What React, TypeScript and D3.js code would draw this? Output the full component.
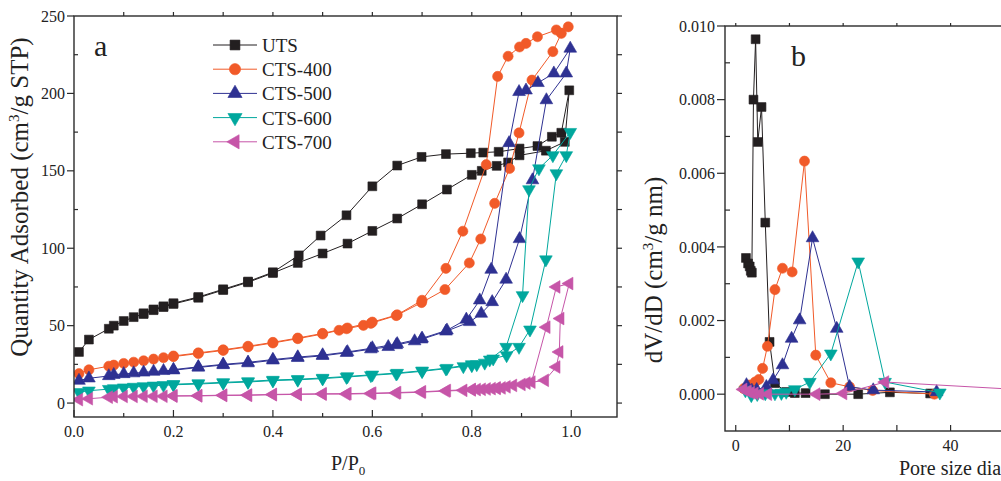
import * as d3 from "d3";

// ---------- panel a: N2 isotherms (P/P0, cm3/g STP) ----------
const utsAds: [number, number][] = [
  [0.01, 33], [0.03, 41], [0.07, 48], [0.08, 50], [0.1, 53], [0.12, 55.5], [0.14, 57.5], [0.16, 60], [0.18, 62], [0.2, 64],
  [0.25, 68], [0.3, 73], [0.35, 78], [0.4, 84], [0.45, 90.5], [0.5, 96.6], [0.55, 103], [0.6, 111.2], [0.65, 119.2],
  [0.7, 128.4], [0.75, 137.9], [0.8, 147.4], [0.82, 150], [0.85, 153.2], [0.873, 155.4], [0.896, 160], [0.949, 163],
  [0.987, 168.7], [0.996, 202],
];
const utsDes: [number, number][] = [
  [0.98, 174.6], [0.961, 172], [0.932, 166], [0.896, 164.4], [0.854, 162.3], [0.823, 161.8], [0.798, 161.4], [0.748, 160.8],
  [0.699, 159], [0.65, 153.4], [0.6, 140], [0.548, 121.3], [0.496, 108.2], [0.452, 95.4], [0.4, 84.5], [0.35, 78.5],
  [0.3, 73.5], [0.25, 68.5], [0.2, 64.5], [0.18, 62.5], [0.16, 60.5], [0.14, 58],
];

const c400Ads: [number, number][] = [
  [0.01, 19], [0.03, 21.5], [0.07, 23.8], [0.08, 24.5], [0.1, 25.6], [0.12, 26.4], [0.14, 27.3], [0.16, 28.4], [0.18, 29.3],
  [0.2, 30], [0.25, 32], [0.3, 34], [0.35, 36.3], [0.4, 38.8], [0.45, 41.6], [0.5, 44.6], [0.533, 47], [0.548, 48],
  [0.582, 50.2], [0.597, 51.5], [0.648, 56.5], [0.699, 64.9], [0.746, 73.3], [0.795, 90.5], [0.818, 106], [0.846, 129],
  [0.876, 151.5], [0.895, 174.5], [0.921, 208.6], [0.963, 227], [0.98, 238.8], [0.994, 243],
];
const c400Des: [number, number][] = [
  [0.97, 241], [0.932, 236.6], [0.909, 232.3], [0.896, 230], [0.873, 224], [0.852, 211], [0.829, 154], [0.782, 111],
  [0.748, 87], [0.7, 66.4], [0.65, 57], [0.6, 52.3], [0.55, 48.5], [0.5, 45], [0.45, 42], [0.4, 39.2], [0.35, 36.7],
  [0.3, 34.4], [0.25, 32.4], [0.2, 30.4],
];

const c500Ads: [number, number][] = [
  [0.01, 14.5], [0.03, 16], [0.07, 17.5], [0.08, 18.3], [0.1, 18.8], [0.12, 19.3], [0.14, 19.8], [0.16, 20.3], [0.18, 20.8],
  [0.2, 21.2], [0.25, 23], [0.3, 24.6], [0.35, 25.8], [0.4, 27.6], [0.45, 29.2], [0.5, 30.5], [0.548, 32.5], [0.597, 34.8],
  [0.632, 36.3], [0.648, 37.5], [0.685, 40], [0.699, 41.2], [0.748, 46.3], [0.796, 52.4], [0.819, 57.8], [0.841, 65.3],
  [0.869, 79.8], [0.896, 106], [0.922, 144], [0.95, 195.7], [0.99, 213], [0.998, 229],
];
const c500Des: [number, number][] = [
  [0.965, 213], [0.933, 206.8], [0.909, 202], [0.895, 201], [0.875, 168], [0.839, 86.2], [0.816, 66.4], [0.789, 54],
  [0.75, 47], [0.7, 41.8], [0.65, 38.2], [0.6, 35.5], [0.55, 33], [0.5, 31], [0.45, 29.7], [0.4, 28.1], [0.35, 26.3],
  [0.3, 25], [0.25, 23.4], [0.2, 21.6],
];

const c600Ads: [number, number][] = [
  [0.01, 7], [0.03, 8], [0.07, 9], [0.08, 9.5], [0.1, 10], [0.12, 10.4], [0.14, 10.8], [0.16, 11.2], [0.18, 11.5], [0.2, 11.8],
  [0.25, 12.3], [0.3, 13], [0.35, 13.6], [0.4, 14.5], [0.45, 15], [0.5, 15.8], [0.548, 16.8], [0.597, 17.9], [0.648, 19],
  [0.7, 20.5], [0.748, 22.2], [0.783, 23.7], [0.8, 24.3], [0.81, 25], [0.826, 26], [0.843, 28.7], [0.87, 30.8],
  [0.895, 36.2], [0.917, 47.4], [0.949, 92.7], [0.97, 148.3], [0.99, 160], [0.998, 175],
];
const c600Des: [number, number][] = [
  [0.963, 160], [0.935, 151.5], [0.915, 138], [0.902, 69.6], [0.869, 36.2], [0.836, 28], [0.8, 25], [0.75, 22.6],
  [0.7, 20.9], [0.65, 19.4], [0.6, 18.3], [0.55, 17.2], [0.5, 16.2], [0.45, 15.4], [0.4, 14.9], [0.35, 14], [0.3, 13.4],
  [0.25, 12.7], [0.2, 12.2],
];

const c700Ads: [number, number][] = [
  [0.01, 2.2], [0.03, 2.8], [0.07, 3.8], [0.08, 4.1], [0.1, 4.3], [0.12, 4.3], [0.14, 4.4], [0.16, 4.4], [0.18, 4.4],
  [0.2, 4.5], [0.25, 4.6], [0.3, 4.9], [0.35, 5], [0.4, 5.4], [0.45, 5.6], [0.5, 5.8], [0.548, 5.8], [0.597, 6.1],
  [0.648, 6.5], [0.699, 7], [0.748, 7.8], [0.783, 8.2], [0.8, 8.5], [0.81, 8.7], [0.82, 8.9], [0.83, 9.1], [0.84, 9.3],
  [0.85, 9.5], [0.86, 9.8], [0.883, 11.4], [0.91, 12.9], [0.947, 14.7], [0.97, 23.3], [0.976, 33], [0.978, 54.6], [0.996, 77.2],
];
const c700Des: [number, number][] = [
  [0.97, 75], [0.95, 49], [0.92, 13.5], [0.9, 12], [0.87, 10.5], [0.85, 9.8], [0.8, 8.8], [0.75, 8.1], [0.7, 7.3],
  [0.65, 6.8], [0.6, 6.4], [0.55, 6.1], [0.5, 6], [0.45, 5.8], [0.4, 5.6], [0.35, 5.2], [0.3, 5.1], [0.25, 4.8], [0.2, 4.7],
];

// ---------- panel b: BJH pore size distribution (nm, cm3/g nm) ----------
const utsPsd: [number, number][] = [
  [1.9, 0.0037], [2.3, 0.00355], [2.6, 0.00347], [2.8, 0.00335], [3.0, 0.0033], [3.3, 0.008], [3.7, 0.00964], [4.1, 0.00685],
  [4.8, 0.0078], [5.5, 0.00466], [6.3, 0.00142], [7.3, 0.0003], [9.4, 0.00006], [11, 0.00003], [13, 0.00003], [16.6, 0],
  [22.8, 0], [28.7, 0.00005], [36.2, 0.00002],
];
const c400Psd: [number, number][] = [
  [1.5, 0.00015], [2.5, 0.00025], [3.6, 0.00033], [4.3, 0.0004], [5.0, 0.0007], [5.9, 0.0013], [7.3, 0.00284],
  [8.7, 0.00342], [10.5, 0.00332], [12.8, 0.00633], [14.9, 0.00106], [17.7, 0.00031], [21.2, 0.0002], [25.5, 0.0001], [37, 0],
];
const c500Psd: [number, number][] = [
  [2.0, 0.00025], [3.0, 0.0001], [3.9, 0.00012], [5.7, 0.0002], [6.95, 0.00038], [8.7, 0.00079], [10.4, 0.00151],
  [11.9, 0.00201], [14.3, 0.00424], [18.8, 0.00178], [21.2, 0.0002], [25.6, 0.00011], [37.4, 0.00006],
];
const c600Psd: [number, number][] = [
  [1.8, 0.0001], [2.9, -0.00003], [4.0, 0], [5.5, 0.00002], [7.3, 0.00002], [8.5, 0.00003], [9.4, 0.00006], [11, 0.00013],
  [13.8, 0.00033], [17.7, 0.0011], [22.8, 0.0036], [27.8, 0.00033], [38, 0.00004],
];
const c700Psd: [number, number][] = [
  [1.4, 0.00013], [2.2, 0.00008], [2.8, 0.00004], [3.5, 0.00002], [4.5, 0.00001], [6, 0], [15, 0], [20, 0.00002],
  [27.8, 0.00033], [62, 0.00005],
];

const names = ["UTS", "CTS-400", "CTS-500", "CTS-600", "CTS-700"];
const colors = ["#231f20", "#f15a29", "#2e3192", "#00a79d", "#c655a8"];

const yTicksA = [0, 50, 100, 150, 200, 250];
const xTicksA = [0, 0.2, 0.4, 0.6, 0.8, 1.0];
const yTicksB = [0, 0.002, 0.004, 0.006, 0.008, 0.01];
const xTicksB = [0, 20, 40, 60];

const FONT = "Liberation Serif, Times New Roman, serif";
const AXIS = "#2b2b2b";

// marker shapes: square, circle, up, down, left triangle
const symbolFor = (i: number, big = false) => {
  const k = big ? 1.25 : 1;
  const types = [d3.symbolSquare, d3.symbolCircle, d3.symbolTriangle, d3.symbolTriangle, d3.symbolTriangle];
  const sizes = [78, 80, 70, 70, 70];
  return d3.symbol(types[i], sizes[i] * k)() as string;
};
const rotFor = [0, 0, 0, 180, -90];

const seriesA = [
  { ads: utsAds, des: utsDes },
  { ads: c400Ads, des: c400Des },
  { ads: c500Ads, des: c500Des },
  { ads: c600Ads, des: c600Des },
  { ads: c700Ads, des: c700Des },
].map((s, i) => ({ name: names[i], color: colors[i], pts: [...s.ads, ...s.des] }));

const seriesB = [utsPsd, c400Psd, c500Psd, c600Psd, c700Psd].map((pts, i) => ({
  name: names[i],
  color: colors[i],
  pts,
}));

const Markers = ({ pts, x, y, i, color }: any) => (
  <g>
    {pts.map((d: [number, number], j: number) => (
      <path
        key={j}
        d={symbolFor(i)}
        transform={`translate(${x(d[0])},${y(d[1])}) rotate(${rotFor[i]})`}
        fill={color}
        stroke={color}
        strokeWidth={0.6}
      />
    ))}
  </g>
);

export default function App() {
  // panel a scales
  const xA = d3.scaleLinear().domain([0, 1.092]).range([74, 617]);
  const yA = d3.scaleLinear().domain([-9, 250]).range([417, 16]);
  // panel b scales (right side runs past the picture edge)
  const xB = d3.scaleLinear().domain([-2, 60]).range([725, 1058]);
  const yB = d3.scaleLinear().domain([-0.001, 0.01]).range([431, 26]);

  const lineA = d3.line<[number, number]>().x((d) => xA(d[0])).y((d) => yA(d[1]));
  const lineB = d3.line<[number, number]>().x((d) => xB(d[0])).y((d) => yB(d[1]));

  const yMinorA = d3.range(25, 250, 50);
  const xMinorA = d3.range(0.1, 1.05, 0.2);
  const xTopA = d3.range(0.1, 1.05, 0.1);
  const yRightA = d3.range(0, 251, 25);
  const yMinorB = d3.range(0.001, 0.0100001, 0.002);
  const xAllB = d3.range(0, 61, 10);

  const fmtA = d3.format(".1f");
  const fmtB = d3.format(".3f");

  return (
    <svg
      width={1001}
      height={481}
      style={{ position: "absolute", left: 0, top: 0, background: "#fff" }}
      fontFamily={FONT}
    >
      <defs>
        <clipPath id="clipA">
          <rect x={74} y={16} width={543} height={401} />
        </clipPath>
        <clipPath id="clipB">
          <rect x={725} y={26} width={340} height={405} />
        </clipPath>
      </defs>

      {/* ===== panel a ===== */}
      <g clipPath="url(#clipA)">
        {seriesA.map((s, i) => (
          <g key={s.name}>
            <path d={lineA(s.pts as [number, number][]) || ""} fill="none" stroke={s.color} strokeWidth={1} />
            <Markers pts={s.pts} x={xA} y={yA} i={i} color={s.color} />
          </g>
        ))}
      </g>
      <rect x={74} y={16} width={543} height={401} fill="none" stroke={AXIS} strokeWidth={1.4} />
      {yTicksA.map((t) => (
        <g key={"ya" + t}>
          <line x1={67} x2={74} y1={yA(t)} y2={yA(t)} stroke={AXIS} strokeWidth={1.2} />
          <text x={65} y={yA(t)} dy="0.35em" textAnchor="end" fontSize={16} fill="#222">
            {t}
          </text>
        </g>
      ))}
      {yMinorA.map((t) => (
        <line key={"yam" + t} x1={74} x2={78} y1={yA(t)} y2={yA(t)} stroke={AXIS} strokeWidth={1.2} />
      ))}
      {yRightA.map((t) => (
        <line key={"yar" + t} x1={617} x2={622} y1={yA(t)} y2={yA(t)} stroke={AXIS} strokeWidth={1.2} />
      ))}
      {xTicksA.map((t) => (
        <g key={"xa" + t}>
          <line x1={xA(t)} x2={xA(t)} y1={417} y2={410} stroke={AXIS} strokeWidth={1.2} />
          <text x={xA(t)} y={437} textAnchor="middle" fontSize={16} fill="#222">
            {fmtA(t)}
          </text>
        </g>
      ))}
      {xMinorA.map((t) => (
        <line key={"xam" + t} x1={xA(t)} x2={xA(t)} y1={417} y2={413} stroke={AXIS} strokeWidth={1.2} />
      ))}
      {xTopA.map((t) => (
        <line key={"xat" + t} x1={xA(t)} x2={xA(t)} y1={16} y2={12} stroke={AXIS} strokeWidth={1.2} />
      ))}
      <text transform="translate(28,197) rotate(-90)" textAnchor="middle" fontSize={25} fill="#222">
        Quantity Adsorbed (cm
        <tspan dy={-9} fontSize={15}>3</tspan>
        <tspan dy={9}>/g STP)</tspan>
      </text>
      <text x={331} y={470} fontSize={20} fill="#222">
        P/P
        <tspan dy={5} fontSize={13}>0</tspan>
      </text>
      <text x={94} y={56} fontSize={30} fill="#222">
        a
      </text>
      {seriesA.map((s, i) => {
        const cy = 45 + i * 24.2;
        return (
          <g key={"lg" + s.name}>
            <line x1={213} x2={257} y1={cy} y2={cy} stroke={s.color} strokeWidth={1} />
            <path d={symbolFor(i, true)} transform={`translate(235,${cy}) rotate(${rotFor[i]})`} fill={s.color} stroke={s.color} strokeWidth={0.6} />
            <text x={262} y={cy + 7} fontSize={19} fill="#222">
              {s.name}
            </text>
          </g>
        );
      })}

      {/* ===== panel b ===== */}
      <g clipPath="url(#clipB)">
        {seriesB.map((s, i) => (
          <g key={"b" + s.name}>
            <path d={lineB(s.pts) || ""} fill="none" stroke={s.color} strokeWidth={1} />
            <Markers pts={s.pts} x={xB} y={yB} i={i} color={s.color} />
          </g>
        ))}
      </g>
      <rect x={725} y={26} width={333} height={405} fill="none" stroke={AXIS} strokeWidth={1.4} />
      {yTicksB.map((t) => (
        <g key={"yb" + t}>
          <line x1={717} x2={725} y1={yB(t)} y2={yB(t)} stroke={AXIS} strokeWidth={1.2} />
          <text x={715} y={yB(t)} dy="0.35em" textAnchor="end" fontSize={16} fill="#222">
            {fmtB(t)}
          </text>
        </g>
      ))}
      {yMinorB.map((t) => (
        <line key={"ybm" + t} x1={725} x2={730} y1={yB(t)} y2={yB(t)} stroke={AXIS} strokeWidth={1.2} />
      ))}
      {xAllB.map((t) => (
        <g key={"xb" + t}>
          <line x1={xB(t)} x2={xB(t)} y1={431} y2={425} stroke={AXIS} strokeWidth={1.2} />
          <line x1={xB(t)} x2={xB(t)} y1={26} y2={23} stroke={AXIS} strokeWidth={1.2} />
        </g>
      ))}
      {xTicksB.map((t) => (
        <text key={"xbl" + t} x={xB(t)} y={451} textAnchor="middle" fontSize={16} fill="#222">
          {t}
        </text>
      ))}
      <text transform="translate(662,270) rotate(-90)" textAnchor="middle" fontSize={25} fill="#222">
        dV/dD (cm
        <tspan dy={-9} fontSize={15}>3</tspan>
        <tspan dy={9}>/g nm)</tspan>
      </text>
      <text x={899} y={475} fontSize={20} fill="#222">
        Pore size diameter (nm)
      </text>
      <text x={791} y={66} fontSize={30} fill="#222">
        b
      </text>
    </svg>
  );
}
